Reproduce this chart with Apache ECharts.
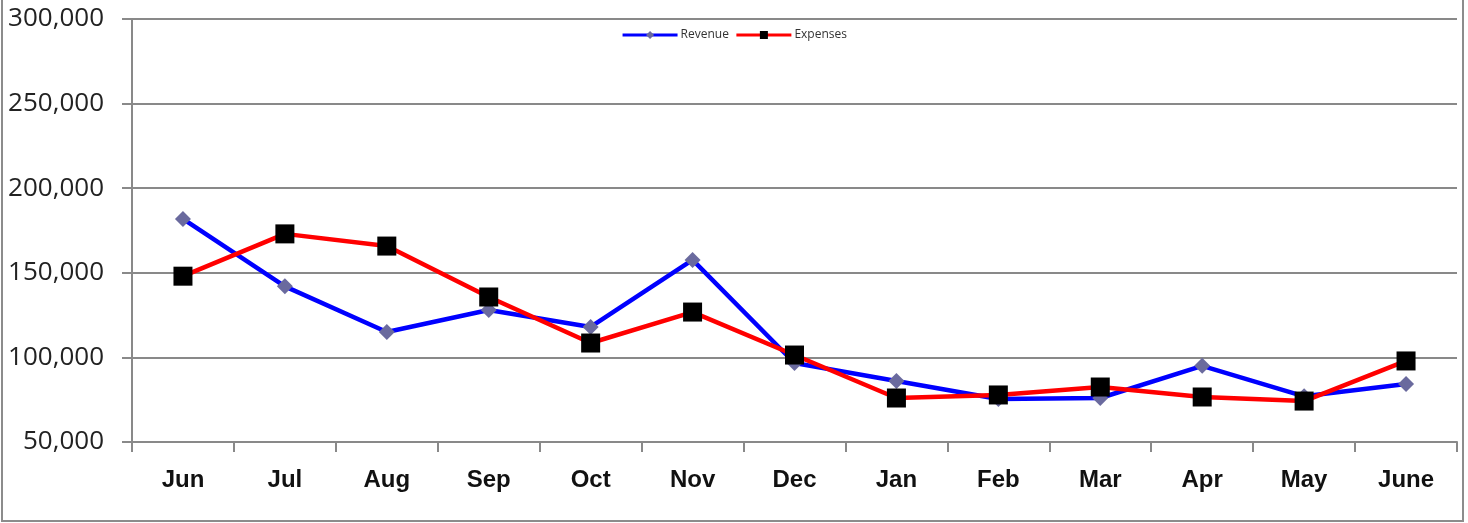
<!DOCTYPE html>
<html><head><meta charset="utf-8">
<script src="https://cdn.jsdelivr.net/npm/echarts@6/dist/echarts.min.js"></script>
<style>
html,body{margin:0;padding:0;background:#fff;}
#wrap{position:absolute;left:1px;top:-2px;width:1463px;height:524px;border:2px solid #8c8c8c;box-sizing:border-box;}
#c{position:absolute;left:0;top:0;width:1468px;height:523px;}
</style></head>
<body>
<div id="wrap"></div>
<div id="c"></div>
<script>
const categories = ['Jun','Jul','Aug','Sep','Oct','Nov','Dec','Jan','Feb','Mar','Apr','May','June'];
const revenue = [181800,142000,115000,128000,118000,157600,96700,86000,75400,76000,95000,77000,84300];
const expenses = [148000,173000,165800,135700,108500,126800,101400,76000,77800,82500,76600,74200,97900];
const yTicks = {min:50000, max:300000, interval:50000};

const chart = echarts.init(document.getElementById('c'), null, {renderer:'canvas'});
chart.setOption({
  animation:false,
  backgroundColor:'transparent',
  grid:{left:132, right:11, top:19, bottom:81, containLabel:false},
  legend:{
    top:24, left:'center', itemWidth:55, itemHeight:10, itemGap:6,
    lineStyle:{width:3},
    textStyle:{fontSize:12, color:'#333', fontFamily:'Open Sans', padding:[0,0,0,-2]},
    data:[{name:'Revenue'},{name:'Expenses'}]
  },
  xAxis:{
    type:'category', data:categories, boundaryGap:true,
    axisLine:{lineStyle:{color:'#898989', width:2}},
    axisTick:{show:true, length:10, lineStyle:{color:'#898989', width:2}},
    axisLabel:{fontSize:24, fontWeight:'bold', color:'#111', margin:26, fontFamily:'Liberation Sans'},
    splitLine:{show:false}
  },
  yAxis:{
    type:'value', min:yTicks.min, max:yTicks.max, interval:yTicks.interval,
    axisLine:{show:true, lineStyle:{color:'#898989', width:2}},
    axisTick:{show:true, length:10, lineStyle:{color:'#898989', width:2}},
    axisLabel:{fontSize:26, color:'#222', margin:28, fontFamily:'Open Sans',
      formatter:v=>v.toLocaleString('en-US')},
    splitLine:{show:true, lineStyle:{color:'#898989', width:2}}
  },
  series:[
    {name:'Revenue', type:'line', data:revenue, symbol:'diamond', symbolSize:16,
     lineStyle:{color:'#0000ff', width:4.5}, itemStyle:{color:'#6a6a9e', borderWidth:0},
     emphasis:{disabled:true}},
    {name:'Expenses', type:'line', data:expenses, symbol:'rect', symbolSize:19,
     lineStyle:{color:'#ff0000', width:4.5}, itemStyle:{color:'#000', borderWidth:0},
     emphasis:{disabled:true}}
  ]
});
</script>
</body></html>
